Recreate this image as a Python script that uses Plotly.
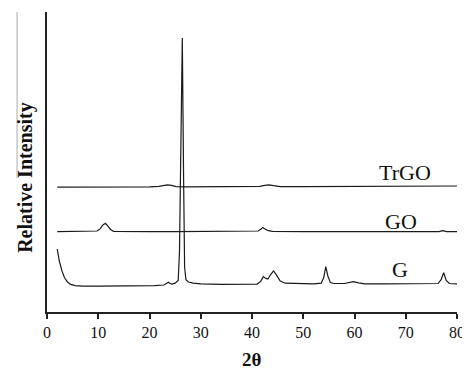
import plotly.graph_objects as go

# ---- data ----
g_x = [2.0, 2.4, 2.9, 3.4, 4.0, 4.6, 5.5, 7, 10, 14, 18, 21, 22.8, 23.3, 23.7, 24.0, 24.4, 25.0,
       25.6, 25.85, 26.05, 26.4, 26.65, 26.85, 27.1, 27.6, 28.5, 30, 34, 38, 41.0, 41.7, 42.2,
       42.7, 43.1, 43.6, 44.2, 44.8, 45.5, 46.5, 49, 52, 53.5, 54.0, 54.4, 54.8, 55.3, 56, 58,
       59.0, 59.8, 60.8, 62, 66, 70, 74, 76.3, 76.9, 77.4, 77.9, 78.5, 80]
g_y = [21.0, 17.0, 13.8, 11.5, 10.0, 9.2, 8.8, 8.6, 8.6, 8.6, 8.7, 8.8, 9.0, 9.6, 9.9, 9.5, 9.3, 9.6,
       10.5, 20.0, 45.0, 91.3, 45.0, 15.0, 10.8, 10.0, 9.6, 9.4, 9.2, 9.2, 9.3, 10.2, 11.8,
       11.2, 11.0, 12.4, 13.7, 12.3, 10.3, 9.6, 9.4, 9.4, 9.6, 11.5, 15.1, 12.0, 9.8, 9.5, 9.5,
       9.8, 10.1, 9.7, 9.4, 9.4, 9.4, 9.4, 9.5, 10.8, 13.1, 10.5, 9.5, 9.4]

go_x = [2, 5, 8, 9.8, 10.4, 10.9, 11.4, 11.9, 12.4, 13, 15, 20, 25, 30, 35, 40, 41.2, 41.7,
        42.1, 42.6, 43.2, 44, 46, 50, 55, 60, 65, 70, 75, 76.5, 77.2, 78, 80]
go_y = [26.8, 26.8, 26.8, 27.0, 27.8, 29.0, 29.6, 28.6, 27.5, 26.9, 26.8, 26.8, 26.8, 26.8,
        26.8, 26.8, 27.0, 27.6, 28.2, 27.6, 27.1, 26.9, 26.8, 26.8, 26.8, 26.8, 26.8, 26.8, 26.8,
        26.8, 27.1, 26.8, 26.8]

t_x = [2, 8, 14, 20, 21.8, 22.8, 23.5, 24.3, 25.2, 27, 32, 38, 41.5, 42.5, 43.3, 44.2, 45.5,
       50, 60, 70, 80]
t_y = [41.6, 41.6, 41.6, 41.7, 41.9, 42.2, 42.4, 42.2, 41.8, 41.7, 41.7, 41.7, 41.9, 42.2,
       42.4, 42.1, 41.8, 41.8, 41.9, 41.9, 42.0]

labels = ["TrGO", "GO", "G"]
label_x = [69.9, 69.0, 68.8]
label_y = [46.5, 30.1, 14.3]

x_ticks = [0, 10, 20, 30, 40, 50, 60, 70, 80]

FONT = "Liberation Serif, Times New Roman, serif"
LINE = "#1a1a1a"

fig = go.Figure()
for xs, ys, name in [(g_x, g_y, "G"), (go_x, go_y, "GO"), (t_x, t_y, "TrGO")]:
    fig.add_trace(go.Scatter(x=xs, y=ys, mode="lines", name=name,
                             line=dict(color=LINE, width=1.2), showlegend=False))

for txt, lx, ly in zip(labels, label_x, label_y):
    fig.add_annotation(x=lx, y=ly, text=txt, showarrow=False, xanchor="center",
                       yanchor="middle", font=dict(family=FONT, size=22, color="#111"))

fig.add_annotation(xref="paper", yref="paper", x=-0.054, y=0.45, text="<b>Relative Intensity</b>",
                   textangle=-90, showarrow=False, xanchor="center", yanchor="middle",
                   font=dict(family=FONT, size=20, color="#111"))
fig.add_annotation(xref="paper", yref="paper", x=0.5, y=-0.158, text="<b>2θ</b>",
                   showarrow=False, xanchor="center", yanchor="middle", borderpad=0,
                   font=dict(family=FONT, size=19, color="#111"))

# faint vertical artifact line seen left of the axis in the reference
fig.add_shape(type="line", xref="paper", yref="paper", x0=-0.073, x1=-0.073, y0=1.0, y1=0.447,
              line=dict(color="#aaaaaa", width=1))

# page body has an 8px margin, so the figure is sized/margined to land in place
fig.update_layout(
    width=462, height=364,
    margin=dict(l=39, r=13, t=4, b=60),
    paper_bgcolor="white", plot_bgcolor="white",
    font=dict(family=FONT, size=16, color="#111"),
    xaxis=dict(range=[0, 80], tickvals=x_ticks, ticks="outside", ticklen=5, tickwidth=1.5,
               tickcolor="#222", showline=True, linecolor="#222", linewidth=2,
               showgrid=False, zeroline=False, tickfont=dict(family=FONT, size=16, color="#111")),
    yaxis=dict(range=[0, 100], showticklabels=False, ticks="", showline=True,
               linecolor="#222", linewidth=2, showgrid=False, zeroline=False),
)

fig.write_html("out.html")
